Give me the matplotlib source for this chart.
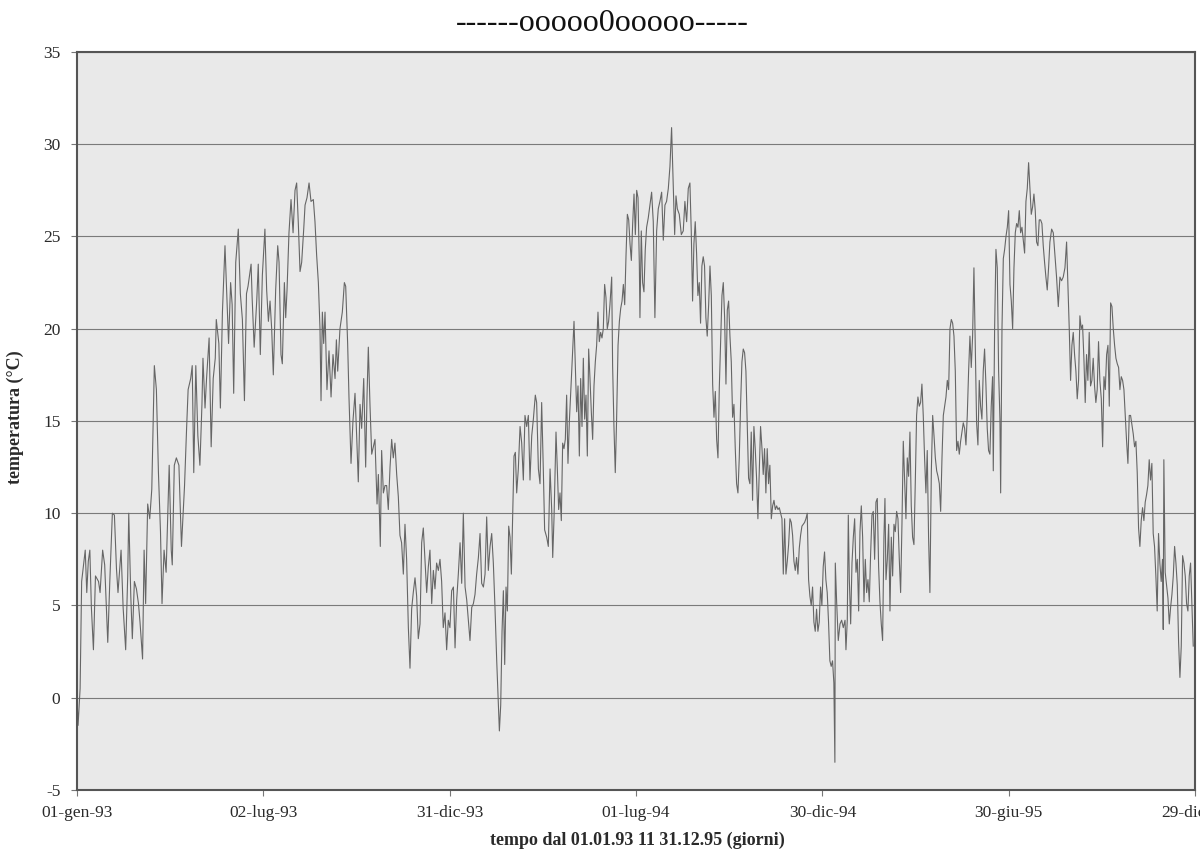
## daily temperature 01.01.93 - 31.12.95

import numpy as np
import matplotlib.pyplot as plt

## ------------ data (day since 01.01.93, temperature in C) ------------
days_93 = [0, 1, 3, 4.5, 8, 9.5, 11, 12.5, 14, 16, 18, 21, 22.5, 25, 27, 30, 32, 34.5, 36.5, 38.5,
           40, 43, 45, 47.5, 49.5, 50.5, 52.5, 54, 56, 58, 60, 61.5, 64, 65.5, 67, 69, 71, 73, 75.5, 77.5,
           79.5, 81.5, 83, 85, 87, 90, 92, 93, 95, 97, 99.5, 102, 105, 107, 108.5, 111, 112.5, 114, 116, 118,
           120, 122, 123, 125, 126.5, 129, 131, 133, 135, 136, 138.5, 140, 142, 144.5, 146.5, 148, 150, 151.5, 153, 155,
           157.5, 159.5, 161.5, 163.5, 165.5, 167, 170, 171, 173, 175.5, 177, 179, 181, 183.5,
           185.2, 186.9, 188.5, 190.1, 191.7, 194, 196, 197.3, 199.2, 200.5, 202.5, 203.8, 205.1, 207, 209, 211,
           212.9, 214.5, 216.2, 217.8, 219.4, 221.4, 222.7, 224.6, 226.6, 228.5, 230.8, 232.4, 234, 235.7, 237.3, 238.3,
           239.6, 240.9, 242.2, 244.1, 246.1, 248.1, 250, 252, 253.3, 254.6, 256.8, 259.1, 261.1, 262.4, 264.3, 265.6,
           267.6, 269.5, 271.5, 273.1, 274.7, 276.4, 278, 280, 281.9, 283.2, 284.5, 286.1, 287.8, 289.4, 291, 293,
           294.3, 296.2, 297.5, 299.2, 300.8, 302.4, 304, 305.7, 307.3, 308.9, 310.5, 312.2, 313.8, 315.4, 317, 318.7,
           320.3, 321.9, 323.6, 325.2, 326.8, 328.4, 330.1, 331.7, 333.3, 335, 336.6, 338.2, 339.8, 341.5, 343.1, 344.7,
           346.4, 348, 349.6, 351.2, 352.9, 354.5, 356.1, 357.7, 359.4, 361, 362.6, 364.2]
temp_93 = [0.0, -1.5, 0.5, 6.3, 8.0, 5.7, 7.4, 8.0, 4.9, 2.6, 6.6, 6.3, 5.7, 8.0, 7.2, 3.0, 6.3, 10.0, 9.9, 7.0,
           5.7, 8.0, 4.9, 2.6, 6.6, 10.0, 5.5, 3.2, 6.3, 5.9, 5.1, 4.1, 2.1, 8.0, 5.1, 10.5, 9.7, 11.3, 18.0, 16.7,
           12.2, 9.0, 5.1, 8.0, 6.8, 12.6, 8.0, 7.2, 12.6, 13.0, 12.6, 8.2, 11.5, 14.6, 16.7, 17.3, 18.0, 12.2, 18.0, 14.2,
           12.6, 15.9, 18.4, 15.7, 17.3, 19.5, 13.6, 17.3, 18.4, 20.5, 19.2, 15.7, 20.9, 24.5, 21.5, 19.2, 22.5, 21.3, 16.5, 23.6,
           25.4, 21.9, 20.5, 16.1, 21.9, 22.3, 23.5, 21.7, 19.0, 21.5, 23.5, 18.6, 22.9, 25.4,
           22.1, 20.4, 21.5, 20.0, 17.5, 22.1, 24.5, 23.6, 18.6, 18.1, 22.5, 20.6, 22.1, 25.2, 27.0, 25.2,
           27.5, 27.9, 25.6, 23.1, 23.6, 25.4, 26.7, 27.1, 27.9, 26.9, 27.0, 25.8, 24.0, 22.5, 20.0, 16.1,
           20.9, 19.2, 20.9, 16.7, 18.8, 16.3, 18.6, 17.3, 19.4, 17.7, 20.0, 20.9, 22.5, 22.3, 19.2, 16.3,
           12.7, 15.0, 16.5, 14.2, 11.7, 15.9, 14.6, 17.3, 12.5, 16.3, 19.0, 15.9, 13.2, 13.6, 14.0, 10.5,
           12.1, 8.2, 13.4, 11.1, 11.5, 11.5, 10.2, 12.5, 14.0, 13.0, 13.8, 12.1, 10.9, 8.8, 8.4, 6.7,
           9.4, 7.5, 3.8, 1.6, 4.8, 5.7, 6.5, 5.5, 3.2, 4.0, 8.4, 9.2, 7.5, 5.7, 7.1, 8.0,
           5.1, 6.9, 5.9, 7.3, 6.9, 7.5, 6.3, 3.8, 4.6, 2.6, 4.2, 3.8]

days_94 = [365.9, 367.6, 369.2, 370.8, 372.4, 374.1, 375.7, 377.3, 379, 380.6, 382.2, 383.8, 385.5, 387.1, 388.7, 390.3,
           392, 393.6, 395.2, 396.9, 398.5, 400.1, 401.7, 403.4, 405, 406.6, 408.2, 409.9, 411.5, 412.5, 413.8, 415.1,
           416.4, 417.7, 419, 420.3, 421.6, 422.9, 424.2, 425.5, 426.8, 428.1, 429.4, 431, 432.7, 434.3, 435.9, 437.5,
           439.2, 440.8, 442.4, 444.1, 445.7, 447.6, 448.9, 450.6, 452.2, 453.8, 455.4, 456.7, 458.7, 460.3, 462, 463.6,
           464.6, 465.9, 467.8, 469.1, 470.4, 471.7, 473, 474.3, 475.6, 476.9, 478.2, 479.5, 480.8, 482.1, 483.4, 485.4,
           486.7, 488, 489.3, 490.6, 491.9, 493.2, 494.5, 495.8, 497.1, 498.4, 499.7, 501, 502.3, 503.6, 504.9, 506.2,
           507.5, 508.8, 510.1, 511.4, 512.7, 514, 515.3, 516.6, 517.9, 519.2, 520.5, 522.2, 523.1, 524.4, 525.7, 527,
           528.4, 529.7, 531, 532.3, 533.6, 534.9, 536.2, 537.5, 538.8, 540.1, 541.4, 542.7, 544, 545.3, 546.6, 547.9,
           549.2, 549.8, 551.1, 552.4, 553.7, 555, 556.3, 557.9, 559.6, 561.2, 562.8, 564.4, 566.1, 567.7, 569.3, 571,
           572.6, 574.2, 575.8, 577.5, 579.1, 580.7, 582.4, 583.7, 585, 586.3, 588.2, 590.2, 592.1, 593.7, 595.4, 597,
           598.6, 599.9, 601.2, 602.5, 603.8, 605.1, 606.4, 607.7, 609, 610.3, 611.6, 612.9, 614.2, 615.5, 616.9, 618.2,
           619.5, 620.8, 622.1, 623.4, 624.7, 626, 627.3, 628.6, 629.9, 631.2, 632.5, 633.8, 635.1, 636.4, 637.7, 639,
           640.3, 641.6, 642.9, 644.2, 645.5, 646.8, 648.1, 649.4, 650.7, 652, 653.3, 654.6, 655.9, 657.2, 658.5, 659.8,
           661.1, 662.4, 663.7, 665, 666.3, 667.6, 669, 670.2, 671.5, 672.8, 674.1, 675.4, 676.7, 678.1, 679.4, 680.7,
           682, 683.3, 684.6, 685.9, 687.2, 688.5, 689.8, 691.1, 692.4, 693.7, 695, 696.3, 697.6, 698.9, 700.2, 701.5,
           702.8, 704.1, 705.4, 706.7, 708, 709.3, 710.6, 711.9, 713.2, 714.5, 715.8, 717.1, 718.4, 719.7, 721, 722.3,
           723.6, 724.9, 726.2, 727.5, 728.8]
temp_94 = [5.8, 6.0, 2.7, 5.3, 6.7, 8.4, 6.2, 10.0, 6.0, 5.3, 4.2, 3.1, 4.9, 5.1, 5.6, 6.7,
           7.6, 8.9, 6.2, 6.0, 6.7, 9.8, 6.9, 8.2, 8.9, 7.3, 4.9, 2.0, -0.4, -1.8, -0.4, 3.6,
           5.8, 1.8, 6.0, 4.7, 9.3, 8.7, 6.7, 9.8, 13.1, 13.3, 11.1, 12.4, 14.7, 13.8, 11.8, 15.3,
           14.7, 15.3, 11.8, 14.2, 15.1, 16.4, 16.0, 12.4, 11.6, 16.0, 12.4, 9.1, 8.7, 8.2, 12.4, 10.2,
           7.6, 9.8, 14.4, 12.4, 10.2, 11.1, 9.6, 13.8, 13.5, 14.0, 16.4, 12.7, 14.9, 16.4, 18.0, 20.4,
           18.0, 15.5, 16.9, 13.1, 17.3, 14.7, 18.4, 15.1, 16.4, 13.1, 18.9, 17.3, 15.5, 14.0, 16.9, 18.2,
           19.1, 20.9, 19.3, 19.8, 19.5, 20.0, 22.4, 21.7, 20.0, 20.4, 21.3, 22.8, 18.0, 14.7, 12.2, 15.1,
           19.1, 20.4, 21.1, 21.5, 22.4, 21.3, 24.0, 26.2, 25.9, 24.6, 23.7, 25.7, 27.3, 25.1, 27.5, 27.1,
           23.5, 20.6, 25.3, 22.5, 22.0, 24.3, 25.5, 26.0, 26.7, 27.4, 25.8, 20.6, 25.3, 26.5, 26.9, 27.4,
           24.8, 26.7, 26.9, 27.6, 28.8, 30.9, 27.6, 25.1, 27.2, 26.5, 26.2, 25.1, 25.3, 26.9, 25.8, 27.6,
           27.9, 25.3, 21.5, 24.6, 25.8, 24.1, 21.8, 22.5, 20.3, 23.4, 23.9, 23.4, 20.6, 19.6, 21.3, 23.4,
           21.8, 17.0, 15.2, 16.6, 14.0, 13.0, 16.8, 19.2, 21.8, 22.5, 20.6, 17.0, 21.0, 21.5, 19.6, 18.2,
           15.2, 15.9, 13.5, 11.6, 11.1, 13.0, 15.9, 18.2, 18.9, 18.7, 17.7, 14.7, 11.9, 11.6, 14.4, 10.7,
           14.7, 13.5, 11.9, 9.7, 12.3, 14.7, 13.5, 12.1, 13.5, 11.1, 13.5, 11.6, 12.6, 9.7, 10.4, 10.7,
           10.2, 10.4, 10.2, 10.3, 10.0, 9.7, 6.7, 9.7, 6.7, 7.4, 8.3, 9.7, 9.5, 8.8, 7.4, 6.9,
           7.6, 6.7, 8.1, 8.8, 9.3, 9.4, 9.5, 9.7, 10.0, 6.4, 5.5, 5.0, 6.0, 4.1, 3.6, 4.8,
           3.6, 4.1, 6.0, 5.0, 7.1]

days_95 = [730.1, 731.4, 732.7, 734, 735.3, 736.6, 737.9, 739.2, 740.2, 740.6, 741.9, 743.5, 745.2, 746.8, 748.4, 750.1,
           751, 752.3, 753.3, 754.3, 755.6, 756.9, 758.2, 759.5, 760.8, 762.1, 763.4, 764.7, 766, 767.3, 768.6, 769.9,
           771.2, 772.5, 773.8, 775.1, 776.4, 777.7, 779, 780.3, 781.6, 782.9, 784.2, 785.5, 786.8, 788.1, 789.1, 790.1,
           791.4, 792.7, 794, 795.3, 796.6, 797.9, 799.2, 800.5, 801.8, 803.1, 804.4, 805.7, 807, 808.3, 809.6, 810.9,
           812.2, 813.5, 814.8, 816.1, 817.4, 818.7, 820, 821.3, 822.6, 823.9, 825.2, 826.5, 827.8, 829.1, 830.4, 831.7,
           833, 834.4, 835.7, 837, 838.3, 839.6, 840.9, 842.2, 843.5, 844.8, 846.1, 847.4, 848.7, 850, 851.3, 852.6,
           853.9, 855.2, 856.5, 857.8, 859.1, 860.4, 861.7, 863, 864.3, 865.6, 866.9, 868.2, 869.5, 870.8, 872.1, 873.4,
           874.7, 876, 877.3, 878.6, 879.9, 881.2, 882.5, 883.8, 885.1, 886.4, 887.7, 889, 890.3, 891.6, 892.9, 894.2,
           894.9, 896.2, 897.5, 898.8, 900.1, 901.4, 902.1, 903.4, 904.7, 906, 907.3, 908.6, 909.9, 911.2, 912.5, 913.8,
           915.1, 916.4, 917.7, 919, 920.3, 921.6, 922.9, 924.2, 925.5, 926.8, 928.1, 929.4, 930.7, 932, 933.3, 934.6,
           935.9, 937.2, 938.5, 939.8, 941.1, 942.4, 943.7, 945, 946.3, 947.6, 948.9, 950.2, 951.9, 953.5, 955.1, 956.7,
           958.4, 960, 961.6, 963.2, 964.9, 966.5, 967.8, 969.1, 970.4, 971.7, 973, 974.3, 975.6, 976.9, 978.2, 979.5,
           980.8, 982.1, 983.4, 984.7, 986, 987.3, 988.6, 989.9, 991.2, 992.5, 993.8, 995.1, 996.4, 997.7, 999, 1000.4,
           1001.7, 1003, 1004.3, 1005.6, 1006.9, 1008.2, 1009.5, 1010.8, 1012.1, 1013.4, 1014.7, 1016, 1017.3, 1018.6,
           1019.9, 1021.2, 1022.5, 1023.8, 1025.1, 1026.4, 1027.7, 1029, 1030.3, 1031.6, 1032.9, 1034.2, 1035.5, 1036.8,
           1038.1, 1039.4, 1040.7, 1042, 1043.3, 1044.6, 1045.9, 1047.2, 1048.5, 1049.8, 1051.1, 1052.4, 1053.7, 1055,
           1056.3, 1057.6, 1058.9, 1060.2, 1060.9, 1061.5, 1062.8, 1064.2, 1065.5, 1066.8, 1068.1, 1069.4, 1070.7, 1072,
           1073.3, 1074.6, 1075.9, 1077.2, 1078.5, 1079.8, 1081.1, 1082.4, 1083.7, 1085, 1086.3, 1087.6, 1088.9, 1090.2]
temp_95 = [7.9, 6.4, 5.7, 4.1, 2.0, 1.7, 2.0, 0.8, -3.5, 7.3, 5.2, 3.1, 4.0, 4.2, 3.8, 4.2,
           2.6, 4.2, 9.9, 6.4, 4.0, 7.3, 8.7, 9.7, 6.8, 7.5, 4.7, 9.0, 10.4, 8.7, 5.2, 7.5,
           5.7, 6.4, 5.2, 7.8, 9.9, 10.1, 7.5, 10.6, 10.8, 7.1, 5.2, 4.0, 3.1, 8.7, 10.8, 6.4,
           7.5, 9.4, 4.7, 8.7, 6.6, 9.4, 9.0, 10.1, 9.7, 7.5, 5.7, 9.4, 13.9, 11.8, 9.7, 13.0,
           12.0, 14.4, 10.4, 8.7, 8.3, 11.6, 15.3, 16.3, 15.8, 16.0, 17.0, 15.3, 13.0, 11.1, 13.4, 8.7,
           5.7, 12.3, 15.3, 14.2, 13.0, 12.3, 12.0, 11.6, 10.1, 13.0, 15.3, 15.8, 16.3, 17.2, 16.7, 20.0,
           20.5, 20.3, 19.6, 17.7, 13.4, 13.9, 13.2, 13.9, 14.4, 14.9, 14.6, 13.7, 15.3, 17.7, 19.6, 17.9,
           19.6, 23.3, 19.1, 14.9, 13.7, 17.2, 15.8, 15.1, 17.7, 18.9, 17.0, 14.6, 13.4, 13.2, 15.8, 17.4,
           12.3, 20.0, 24.3, 23.3, 17.7, 15.1, 11.1, 20.0, 23.8, 24.3, 25.0, 25.5, 26.4, 22.4, 21.5, 20.0,
           23.3, 25.2, 25.7, 25.5, 26.4, 25.2, 25.5, 24.8, 24.1, 26.9, 27.6, 29.0, 27.6, 26.2, 26.6, 27.3,
           26.4, 24.7, 24.5, 25.9, 25.9, 25.7, 24.5, 23.6, 22.8, 22.1, 23.3, 24.7, 25.4, 25.2, 24.0, 22.8,
           21.2, 22.8, 22.6, 22.8, 23.3, 24.7, 22.4, 20.0, 17.2, 19.1, 19.8, 18.6, 17.7, 16.2, 17.2, 20.7,
           20.0, 20.2, 18.4, 16.0, 18.6, 17.2, 19.8, 16.9, 17.2, 18.4, 16.9, 16.0, 16.7, 19.3, 17.2, 16.2,
           13.6, 17.4, 16.7, 18.6, 19.1, 15.8, 21.4, 21.2, 20.0, 19.1, 18.4, 18.1, 17.9, 16.7,
           17.4, 17.2, 16.7, 15.3, 13.9, 12.7, 15.3, 15.3, 14.8, 14.3, 13.6, 13.9, 12.2, 9.2,
           8.2, 9.6, 10.3, 9.6, 10.6, 11.0, 11.5, 12.9, 11.8, 12.7, 8.9, 8.2, 6.6, 4.7,
           8.9, 7.3, 6.3, 7.5, 3.7, 12.9, 6.8, 6.1, 5.4, 4.0, 4.9, 5.6, 6.6, 8.2,
           7.3, 6.1, 3.0, 1.1, 2.8, 7.7, 7.3, 6.6, 5.1, 4.7, 6.6, 7.3, 5.1, 2.8]

xtick_days = [0, 182, 364, 546, 728, 910, 1092]
xtick_labels = ['01-gen-93', '02-lug-93', '31-dic-93', '01-lug-94', '30-dic-94', '30-giu-95', '29-dic-95']
ytick_vals = [-5, 0, 5, 10, 15, 20, 25, 30, 35]
## ---------------------------------------------------------------------

days = np.concatenate([days_93, days_94, days_95])
temps = np.concatenate([temp_93, temp_94, temp_95])

plt.rcParams['font.family'] = ['Liberation Serif', 'DejaVu Serif']
plt.rcParams['axes.unicode_minus'] = False
txt_clr = '#2a2a2a'

fig = plt.figure(figsize=(12, 8.52), dpi=100)
ax = fig.add_axes([0.0642, 0.0728, 0.9317, 0.8662])
ax.set_facecolor('#e9e9e9')

ax.plot(days, temps, color='#666666', lw=0.8)

ax.set_xlim(0, 1092)
ax.set_ylim(-5, 35)
ax.set_xticks(xtick_days)
ax.set_xticklabels(xtick_labels)
ax.set_yticks(ytick_vals)
ax.yaxis.grid(True, color='#7a7a7a', lw=0.8)
ax.set_axisbelow(True)

for sp in ax.spines.values():
    sp.set_color('#555555')
    sp.set_linewidth(1.5)

ax.tick_params(axis='both', direction='out', length=4, width=0.8, color='#777777',
               labelsize=12.5, labelcolor=txt_clr)
ax.tick_params(axis='x', pad=7)
ax.tick_params(axis='y', pad=8)

fig.text(0.502, 0.972, '------ooooo0ooooo-----', ha='center', va='center',
         fontsize=23, color='#111111')
fig.text(0.0125, 0.51, 'temperatura (°C)', rotation=90, ha='center', va='center',
         fontsize=13, fontweight='bold', color=txt_clr)
fig.text(0.531, 0.014, 'tempo dal 01.01.93 11 31.12.95 (giorni)', ha='center', va='center',
         fontsize=13, fontweight='bold', color=txt_clr)

fig.savefig('out.png', dpi=100)
print('figure saved to out.png')
